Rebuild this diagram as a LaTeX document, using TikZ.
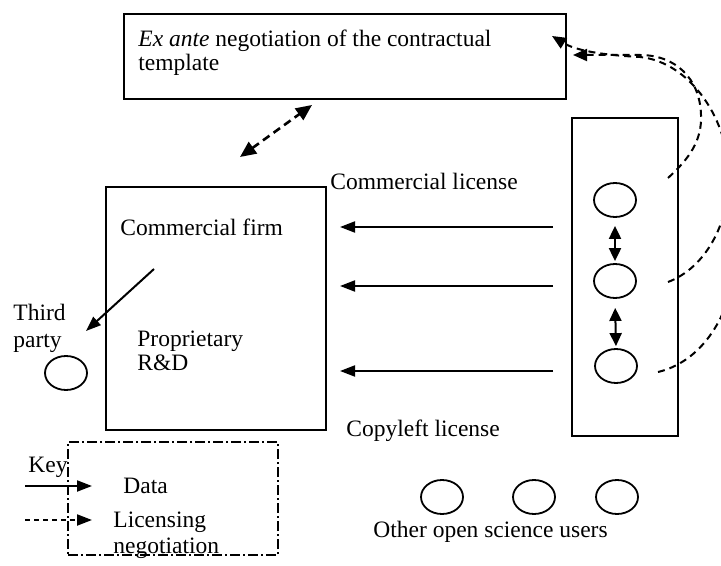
\documentclass[tikz,border=0pt]{standalone}
\usepackage{fontspec}
\setmainfont{Liberation Serif}
\usetikzlibrary{arrows.meta,shapes.geometric}
\begin{document}
\begin{tikzpicture}[x=0.5pt,y=-0.5pt,
  font=\fontsize{11.75}{13}\selectfont,
  box/.style={draw, rectangle, line width=1pt, inner sep=0pt},
  usr/.style={draw, ellipse, line width=0.9pt, minimum width=21pt, minimum height=17pt, inner sep=0pt},
  lbl/.style={anchor=base west, inner sep=0pt},
  dataarr/.style={line width=1pt, -{Triangle[length=7.5pt,width=5.5pt]}},
  dblarr/.style={line width=1pt, {Triangle[length=6.5pt,width=6pt]}-{Triangle[length=6.5pt,width=6pt]}},
  negarr/.style={line width=1pt, dash pattern=on 3.5pt off 2.5pt, -{Triangle[length=7pt,width=6pt]}},
  negline/.style={line width=1pt, dash pattern=on 3.5pt off 2.5pt},
  keydash/.style={line width=1pt, dash pattern=on 2.5pt off 2pt, -{Triangle[length=7.5pt,width=5.5pt]}},
  bigneg/.style={line width=1.3pt, dash pattern=on 4pt off 2.5pt, {Triangle[length=8pt,width=7pt]}-{Triangle[length=8pt,width=7pt]}}
]
\useasboundingbox (0,0) rectangle (721,566);
\fill[white] (0,0) rectangle (721,566);

% boxes
\node[box, minimum width=221pt, minimum height=42.5pt] (tmpl) at (345,56.5) {};
\node[box, minimum width=110pt, minimum height=121.5pt] (firm) at (216,308.5) {};
\node[box, minimum width=53pt, minimum height=159pt] (col) at (625,277) {};
\node[draw, line width=0.9pt, dash pattern=on 5pt off 1.5pt on 1pt off 1.5pt, minimum width=105pt, minimum height=56.5pt, inner sep=0pt] (key) at (173,498.5) {};

% ellipses
\node[usr] (tp) at (66,373) {};
\node[usr] (u1) at (615,200) {};
\node[usr] (u2) at (615,281) {};
\node[usr] (u3) at (616,366) {};
\node[usr] (o1) at (442,497) {};
\node[usr] (o2) at (534,497) {};
\node[usr] (o3) at (617,497) {};

% texts
\node[lbl] (t1) at (138,47) {\textit{Ex ante} negotiation of the contractual};
\node[lbl] (t2) at (138,71) {template};
\node[lbl] (cf) at (120,235) {Commercial firm};
\node[lbl] (th) at (13,320) {Third};
\node[lbl] (pa) at (13,347) {party};
\node[lbl] (pr) at (137,346) {Proprietary};
\node[lbl] (rd) at (137,370) {R\&D};
\node[lbl] (cl) at (330,190) {Commercial license};
\node[lbl] (co) at (346,436) {Copyleft license};
\node[lbl] (ky) at (28,472) {Key};
\node[lbl] (da) at (123,493) {Data};
\node[lbl] (li) at (113,527) {Licensing};
\node[lbl] (ne) at (113,553) {negotiation};
\node[lbl] (os) at (373,537) {Other open science users};

% coordinates
\coordinate (r1) at (553,227); \coordinate (l1) at (340,227);
\coordinate (r2) at (553,286); \coordinate (l2) at (340,286);
\coordinate (r3) at (553,371); \coordinate (l3) at (340,371);
\coordinate (fs) at (154,269); \coordinate (tpa) at (86,331);
\coordinate (n1) at (312,105); \coordinate (n2) at (240,157);
\coordinate (k1s) at (25,486); \coordinate (k1e) at (92,486);
\coordinate (k2s) at (25,520); \coordinate (k2e) at (92,520);
\coordinate (cA) at (668,178); \coordinate (cB) at (668,282); \coordinate (cC) at (658,372);
\coordinate (hA) at (573,55); \coordinate (hB) at (552,36);

% data arrows
\draw[dataarr] (r1) -- (l1);
\draw[dataarr] (r2) -- (l2);
\draw[dataarr] (r3) -- (l3);
\draw[dataarr] (fs) -- (tpa);
\draw[dblarr, shorten <=4pt, shorten >=1pt] (u1.south) -- (u2.north);
\draw[dblarr, shorten <=4.5pt, shorten >=1pt] (u2.south) -- (u3.north);

% negotiation
\draw[bigneg] (n2) -- (n1);
\draw[negarr] (cA) .. controls (690,158) and (702,140) .. (701,115) .. controls (700,78) and (675,55) .. (640,55) -- (hA);
\draw[negarr] (cB) .. controls (705,268) and (728,225) .. (729,180) .. controls (730,120) and (690,62) .. (640,57) .. controls (600,55) and (575,50) .. (hB);
\draw[negline] (cC) .. controls (700,362) and (728,320) .. (735,270) -- (740,200);

% key
\draw[dataarr] (k1s) -- (k1e);
\draw[keydash] (k2s) -- (k2e);
\end{tikzpicture}
\end{document}
